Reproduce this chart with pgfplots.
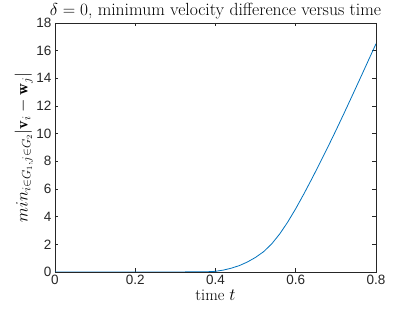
\documentclass[border=0pt]{standalone}
\usepackage{fontspec}
\usepackage{pgfplots}
\pgfplotsset{compat=1.18}
\newfontfamily\ticksf{Liberation Sans}
\definecolor{mblue}{rgb}{0,0.447,0.741}
\definecolor{axgray}{rgb}{0.15,0.15,0.15}
\begin{document}
\begin{tikzpicture}[x=1pt,y=1pt]
\begin{axis}[
  at={(0,0)}, anchor=south west,
  scale only axis, width=321pt, height=249pt,
  xmin=0, xmax=0.8, ymin=0, ymax=18,
  xtick={0,0.2,0.4,0.6,0.8},
  ytick={0,2,...,18},
  xticklabels={0,0.2,0.4,0.6,0.8},
  tick align=inside,
  major tick length=3.5pt,
  axis line style={axgray, line width=0.6pt},
  tick style={axgray, line width=0.6pt},
  every tick label/.append style={font=\ticksf\fontsize{13.5}{16}\selectfont, text=axgray},
  /pgf/number format/assume math mode=true,
  title={$\delta=0$, minimum velocity difference versus time},
  title style={font=\fontsize{17.6}{20}\selectfont, yshift=-6pt},
  xlabel={time $t$},
  xlabel style={font=\fontsize{16.3}{18}\selectfont, yshift=2pt},
  ylabel={{\fontsize{16.5}{18}\selectfont$\hbox{\fontsize{19}{21}\selectfont$min$}_{i\in G_1, j\in G_2}|\mathbf{v}_i-\mathbf{w}_j|$}},
  ylabel style={yshift=-3pt},
]
\addplot[mblue, line width=0.8pt] coordinates {
(0,0) (0.1,0) (0.2,0) (0.3,0.005) (0.36,0.01) (0.38,0.02)
(0.40,0.05) (0.42,0.14) (0.44,0.28) (0.46,0.47) (0.48,0.73)
(0.50,1.06) (0.52,1.47) (0.54,2.03) (0.56,2.75) (0.58,3.61)
(0.60,4.58) (0.62,5.63) (0.64,6.73) (0.66,7.865) (0.68,9.03)
(0.70,10.225) (0.72,11.45) (0.74,12.7) (0.76,13.96) (0.78,15.23)
(0.80,16.5)
};
\end{axis}
\path[use as bounding box] (-55,-40) rectangle (360,272);
\end{tikzpicture}
\end{document}
